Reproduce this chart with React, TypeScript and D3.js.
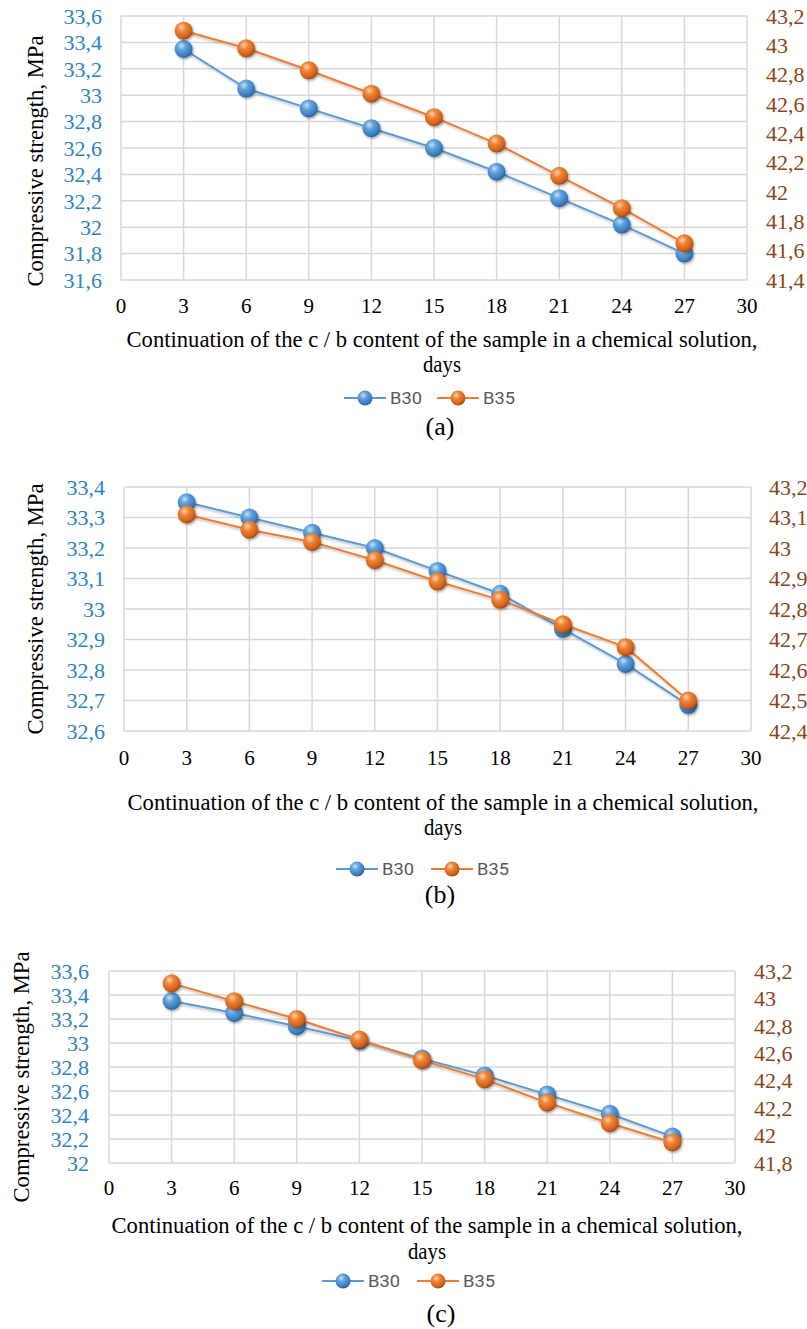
import React, { useEffect } from 'react';
import * as d3 from 'd3';

// days in chemical solution
const days = [3, 6, 9, 12, 15, 18, 21, 24, 27];
const xTicks = [0, 3, 6, 9, 12, 15, 18, 21, 24, 27, 30];
const seriesNames = ['B30', 'B35'];
const captions = ['(a)', '(b)', '(c)'];

// panel (a)
const b30A = [33.35, 33.05, 32.9, 32.75, 32.6, 32.42, 32.22, 32.02, 31.8];
const b35A = [43.1, 42.98, 42.83, 42.67, 42.51, 42.33, 42.11, 41.89, 41.65];
const leftTicksA = [31.6, 31.8, 32, 32.2, 32.4, 32.6, 32.8, 33, 33.2, 33.4, 33.6];
const rightTicksA = [41.4, 41.6, 41.8, 42, 42.2, 42.4, 42.6, 42.8, 43, 43.2];

// panel (b)
const b30B = [33.35, 33.3, 33.25, 33.2, 33.125, 33.05, 32.935, 32.82, 32.685];
const b35B = [43.11, 43.06, 43.02, 42.96, 42.89, 42.83, 42.75, 42.675, 42.5];
const leftTicksB = [32.6, 32.7, 32.8, 32.9, 33, 33.1, 33.2, 33.3, 33.4];
const rightTicksB = [42.4, 42.5, 42.6, 42.7, 42.8, 42.9, 43, 43.1, 43.2];

// panel (c)
const b30C = [33.35, 33.25, 33.14, 33.02, 32.87, 32.73, 32.57, 32.41, 32.22];
const b35C = [43.11, 42.98, 42.85, 42.7, 42.55, 42.41, 42.24, 42.09, 41.95];
const leftTicksC = [32, 32.2, 32.4, 32.6, 32.8, 33, 33.2, 33.4, 33.6];
const rightTicksC = [41.8, 42, 42.2, 42.4, 42.6, 42.8, 43, 43.2];

const panels = [
  { b30: b30A, b35: b35A, leftTicks: leftTicksA, rightTicks: rightTicksA },
  { b30: b30B, b35: b35B, leftTicks: leftTicksB, rightTicks: rightTicksB },
  { b30: b30C, b35: b35C, leftTicks: leftTicksC, rightTicks: rightTicksC },
];

// measured layout of each panel
const layouts = [
  { left: 121, right: 747, top: 16, bottom: 280, leftLabelX: 102, rightLabelX: 766, yTitleX: 43, yTitleY: 161, tickY: 313, title1Y: 347, title2Y: 372, titleX: 442, legendY: 398, legendX: [365, 458], captionX: 440, captionY: 435 },
  { left: 124, right: 751, top: 487, bottom: 731, leftLabelX: 105, rightLabelX: 769, yTitleX: 43, yTitleY: 609, tickY: 765, title1Y: 810, title2Y: 835, titleX: 443, legendY: 869, legendX: [357, 452], captionX: 440, captionY: 903 },
  { left: 109, right: 735, top: 971, bottom: 1163, leftLabelX: 89, rightLabelX: 754, yTitleX: 29, yTitleY: 1077, tickY: 1195, title1Y: 1233, title2Y: 1259, titleX: 427, legendY: 1281, legendX: [343, 438], captionX: 441, captionY: 1322 },
];

const serif = '"Liberation Serif", "Times New Roman", serif';
const blue = '#5B9BD5';
const orange = '#ED7D31';
const leftColor = '#2A84C6';
const rightColor = '#8A4516';
const gridColor = '#D9D9D9';

const fmt = (v: number) => String(Math.round(v * 10) / 10).replace('.', ',');

function Panel({ idx }: { idx: number }) {
  const p = panels[idx];
  const L = layouts[idx];
  const x = d3.scaleLinear().domain([0, 30]).range([L.left, L.right]);
  const yL = d3
    .scaleLinear()
    .domain([p.leftTicks[0], p.leftTicks[p.leftTicks.length - 1]])
    .range([L.bottom, L.top]);
  const yR = d3
    .scaleLinear()
    .domain([p.rightTicks[0], p.rightTicks[p.rightTicks.length - 1]])
    .range([L.bottom, L.top]);

  const lineL = d3
    .line<number>()
    .x((_, i) => x(days[i]))
    .y((d) => yL(d));
  const lineR = d3
    .line<number>()
    .x((_, i) => x(days[i]))
    .y((d) => yR(d));

  const series = [
    { name: seriesNames[0], vals: p.b30, line: lineL, y: yL, color: blue, grad: 'url(#sphereBlue)' },
    { name: seriesNames[1], vals: p.b35, line: lineR, y: yR, color: orange, grad: 'url(#sphereOrange)' },
  ];

  return (
    <g>
      {/* grid */}
      {p.leftTicks.map((t) => (
        <line key={'h' + t} x1={L.left} x2={L.right} y1={yL(t)} y2={yL(t)} stroke={gridColor} strokeWidth={1.5} />
      ))}
      {xTicks.map((t) => (
        <line key={'v' + t} x1={x(t)} x2={x(t)} y1={L.top} y2={L.bottom} stroke={gridColor} strokeWidth={1.5} />
      ))}

      {/* left axis labels */}
      {p.leftTicks.map((t) => (
        <text key={'l' + t} x={L.leftLabelX} y={yL(t)} dy="0.35em" textAnchor="end" fontFamily={serif} fontSize={22} fill={leftColor}>
          {fmt(t)}
        </text>
      ))}
      {/* right axis labels */}
      {p.rightTicks.map((t) => (
        <text key={'r' + t} x={L.rightLabelX} y={yR(t)} dy="0.35em" textAnchor="start" fontFamily={serif} fontSize={22} fill={rightColor}>
          {fmt(t)}
        </text>
      ))}
      {/* x labels */}
      {xTicks.map((t) => (
        <text key={'x' + t} x={x(t)} y={L.tickY} textAnchor="middle" fontFamily={serif} fontSize={21} fill="#000">
          {t}
        </text>
      ))}

      {/* axis titles */}
      <text
        transform={`translate(${L.yTitleX},${L.yTitleY}) rotate(-90)`}
        textAnchor="middle"
        fontFamily={serif}
        fontSize={22.5}
        textLength={251}
        lengthAdjust="spacingAndGlyphs"
        fill="#000"
      >
        Compressive strength, MPa
      </text>
      <text x={L.titleX} y={L.title1Y} textAnchor="middle" fontFamily={serif} fontSize={23} textLength={631} lengthAdjust="spacingAndGlyphs" fill="#000">
        Continuation of the c / b content of the sample in a chemical solution,
      </text>
      <text x={L.titleX} y={L.title2Y} textAnchor="middle" fontFamily={serif} fontSize={23} textLength={38} lengthAdjust="spacingAndGlyphs" fill="#000">
        days
      </text>

      {/* series */}
      {series.map((s) => (
        <g key={s.name}>
          <path d={s.line(s.vals) || ''} fill="none" stroke={s.color} strokeWidth={2} filter="url(#lineShadow)" />
          {s.vals.map((v, i) => (
            <circle key={i} cx={x(days[i])} cy={s.y(v)} r={9} fill={s.grad} filter="url(#dotShadow)" />
          ))}
        </g>
      ))}

      {/* legend */}
      {series.map((s, i) => (
        <g key={'lg' + s.name}>
          <line x1={L.legendX[i] - 21} x2={L.legendX[i] + 21} y1={L.legendY} y2={L.legendY} stroke={s.color} strokeWidth={2} />
          <circle cx={L.legendX[i]} cy={L.legendY} r={7.5} fill={s.grad} />
          <text x={L.legendX[i] + 25} y={L.legendY} dy="0.36em" fontFamily="Roboto, sans-serif" fontSize={17} textLength={32} lengthAdjust="spacingAndGlyphs" fill="#595959">
            {s.name}
          </text>
        </g>
      ))}

      <text x={L.captionX} y={L.captionY} textAnchor="middle" fontFamily={serif} fontSize={26} fill="#000">
        {captions[idx]}
      </text>
    </g>
  );
}

export default function App() {
  useEffect(() => {
    document.body.style.margin = '0';
  }, []);

  return (
    <svg width={807} height={1329} style={{ display: 'block', background: '#fff' }}>
      <defs>
        <radialGradient id="sphereBlue" cx="38%" cy="32%" r="70%">
          <stop offset="0%" stopColor="#C7DEF3" />
          <stop offset="35%" stopColor="#5FA2DC" />
          <stop offset="80%" stopColor="#3A7DBF" />
          <stop offset="100%" stopColor="#2A5F93" />
        </radialGradient>
        <radialGradient id="sphereOrange" cx="38%" cy="32%" r="70%">
          <stop offset="0%" stopColor="#FBD3B5" />
          <stop offset="35%" stopColor="#F08434" />
          <stop offset="80%" stopColor="#D0621A" />
          <stop offset="100%" stopColor="#9E4610" />
        </radialGradient>
        <filter id="dotShadow" x="-50%" y="-50%" width="200%" height="200%">
          <feDropShadow dx="1.2" dy="1.5" stdDeviation="1" floodColor="#000" floodOpacity="0.35" />
        </filter>
        <filter id="lineShadow" x="-5%" y="-20%" width="110%" height="140%">
          <feDropShadow dx="1.5" dy="2" stdDeviation="1" floodColor="#000" floodOpacity="0.25" />
        </filter>
      </defs>
      <rect width={807} height={1329} fill="#fff" />
      {panels.map((_, i) => (
        <Panel key={i} idx={i} />
      ))}
    </svg>
  );
}
